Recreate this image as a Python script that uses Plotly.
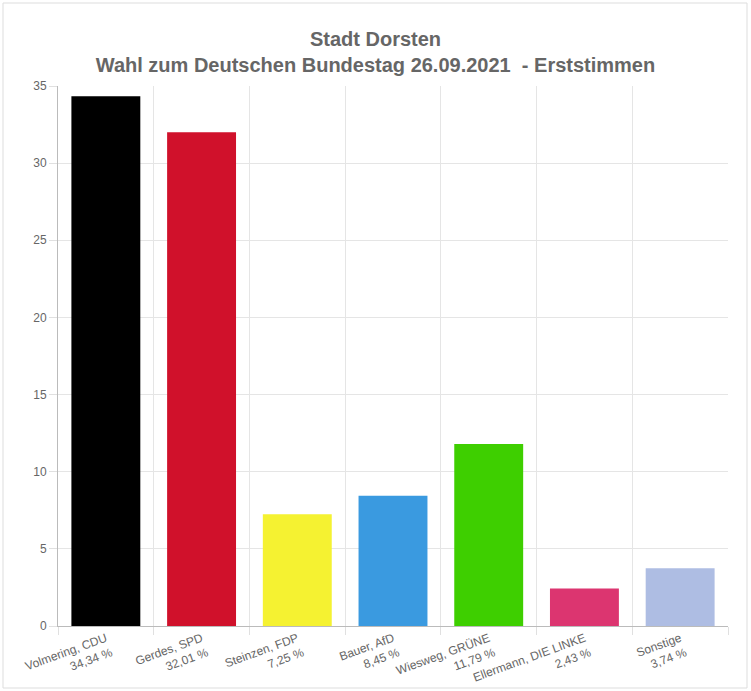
import plotly.graph_objects as go

candidates = ["Volmering, CDU", "Gerdes, SPD", "Steinzen, FDP", "Bauer, AfD",
              "Wiesweg, GRÜNE", "Ellermann, DIE LINKE", "Sonstige"]
pct_labels = ["34,34 %", "32,01 %", "7,25 %", "8,45 %", "11,79 %", "2,43 %", "3,74 %"]
values = [34.34, 32.01, 7.25, 8.45, 11.79, 2.43, 3.74]
colors = ["#000000", "#d0112b", "#f5f231", "#3a9ae0", "#3ecf00", "#dc3570", "#aebde3"]
y_ticks = [0, 5, 10, 15, 20, 25, 30, 35]

tick_text = [f"{c}<br>{p}" for c, p in zip(candidates, pct_labels)]

fig = go.Figure(go.Bar(x=candidates, y=values, marker=dict(color=colors, line=dict(width=0)),
                       hoverinfo="x+y"))

fig.update_layout(
    width=751, height=691,
    margin=dict(l=58, r=23, t=86, b=65, autoexpand=False),
    paper_bgcolor="white", plot_bgcolor="white",
    bargap=0.28,
    showlegend=False,
    title=dict(
        text="<b>Stadt Dorsten<br>Wahl zum Deutschen Bundestag 26.09.2021  - Erststimmen</b>",
        x=0.5, xanchor="center", y=1 - 46 / 691, yanchor="middle",
        font=dict(family="Liberation Sans, Arial, sans-serif", size=20, color="#666666"),
    ),
    font=dict(family="Liberation Sans, Arial, sans-serif", size=12, color="#666666"),
    xaxis=dict(
        type="category", tickson="boundaries", ticks="outside", ticklen=8,
        tickcolor="#e0e0e0", showgrid=True, gridcolor="#e5e5e5", gridwidth=1,
        tickvals=candidates, ticktext=tick_text, tickangle=-20, automargin=False,
        showline=True, linecolor="#bbbbbb", mirror=False,
        tickfont=dict(size=12, color="#666666"),
    ),
    yaxis=dict(
        range=[0, 35], tickvals=y_ticks, ticks="outside", ticklen=8, automargin=False,
        tickcolor="#e0e0e0", showgrid=True, gridcolor="#e5e5e5",
        showline=True, linecolor="#bbbbbb", zeroline=False,
        tickfont=dict(size=12, color="#666666"),
    ),
)

# outer frame of the chart container
fig.add_shape(type="rect", xref="paper", yref="paper",
              x0=-55 / 670, x1=1 + 19 / 670, y0=-62 / 540, y1=1 + 83 / 540,
              line=dict(color="#dddddd", width=1), fillcolor="rgba(0,0,0,0)", layer="below")

fig.write_html("out.html")
